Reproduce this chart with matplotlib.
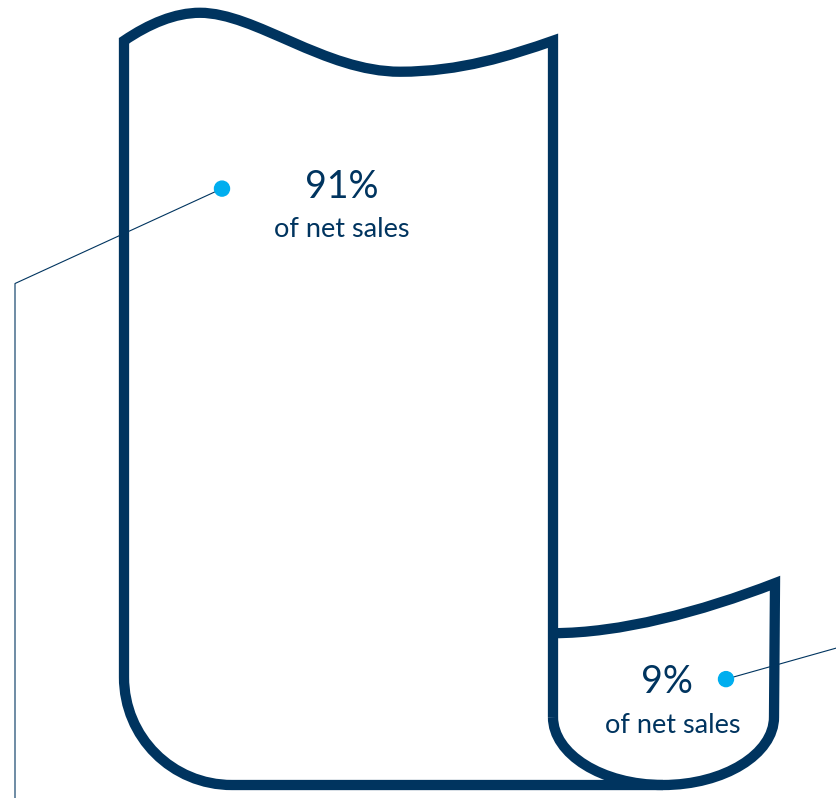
import matplotlib.pyplot as plt
from matplotlib.path import Path
from matplotlib.patches import PathPatch, Circle

# data
shares = [91, 9]
share_labels = [f"{v}%" for v in shares]
sub_label = "of net sales"

navy = "#00345f"
cyan = "#00aeef"

fig = plt.figure(figsize=(8.36, 7.98), dpi=100)
ax = fig.add_axes([0, 0, 1, 0.999])
ax.set_xlim(0, 836)
ax.set_ylim(798, 0)
ax.axis("off")

M, L, C = Path.MOVETO, Path.LINETO, Path.CURVE4

# big shape (right edge, wavy top, left edge, rounded corner, bottom)
big_verts = [
    (553, 717), (553, 40),
    (510, 55), (460, 71), (400, 71),
    (325, 71), (255, 12), (200, 12),
    (175, 12), (149, 23), (124, 40),
    (124, 677),
    (124, 737), (172, 785), (232, 785),
    (663, 785),
]
big_codes = [M, L, C, C, C, C, C, C, C, C, C, L, C, C, C, L]
ax.add_patch(PathPatch(Path(big_verts, big_codes), fill=False, ec=navy, lw=7.4,
                       joinstyle="miter", capstyle="butt"))

# small shape (top curve, right edge, bowl)
small_verts = [
    (553, 633),
    (620, 633), (700, 612), (775, 583),
    (774, 717),
    (774, 754), (724, 785), (663, 785),
    (602, 785), (553, 754), (553, 717),
]
small_codes = [M, C, C, C, L, C, C, C, C, C, C]
ax.add_patch(PathPatch(Path(small_verts, small_codes), fill=False, ec=navy, lw=7.4,
                       joinstyle="miter", capstyle="butt"))

# leader lines
ax.plot([222, 15, 15], [188, 283, 798], color=navy, lw=0.8)
ax.plot([726, 836], [679, 648], color=navy, lw=0.8)
ax.add_patch(Circle((222, 188), 7.5, color=cyan, zorder=5))
ax.add_patch(Circle((726, 679), 7.5, color=cyan, zorder=5))

# labels
font = dict(family=["Lato", "DejaVu Sans"], weight="normal", color=navy)
ax.text(342, 197, share_labels[0], fontsize=27, ha="center", va="baseline", **font)
ax.text(342, 236, sub_label, fontsize=19.5, ha="center", va="baseline", **font)
ax.text(667, 693, share_labels[1], fontsize=27, ha="center", va="baseline", **font)
ax.text(673, 733, sub_label, fontsize=19.5, ha="center", va="baseline", **font)

fig.savefig("out.png", dpi=100)
